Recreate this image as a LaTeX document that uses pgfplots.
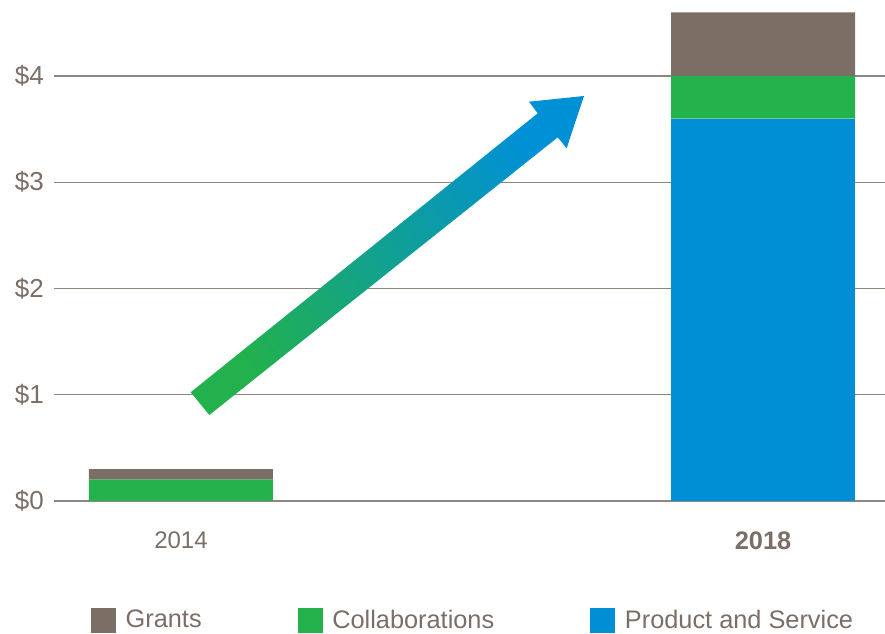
\documentclass[border=0pt]{standalone}
\usepackage{fontspec}
\setmainfont{Liberation Sans}
\usepackage{pgfplots}
\pgfplotsset{compat=1.18}
\definecolor{grants}{HTML}{7A6E65}
\definecolor{collab}{HTML}{23B24B}
\definecolor{prod}{HTML}{008FD5}
\definecolor{txt}{HTML}{7A6E66}
\definecolor{gridc}{HTML}{8F8580}
\definecolor{arrg}{HTML}{22B14C}
\definecolor{arrb}{HTML}{0090D6}
\begin{document}
\begin{tikzpicture}[x=1pt,y=1pt]
\begin{axis}[
  at={(40.5pt,99.75pt)}, anchor=south west,
  scale only axis, width=623.25pt, height=374.5pt,
  xmin=-0.2182, xmax=1.2096, ymin=0, ymax=4.7,
  ybar stacked, bar width=138pt,
  axis line style={draw=none},
  major tick length=0pt,
  ytick={0,1,2,3,4}, yticklabels={\$0,\$1,\$2,\$3,\$4},
  xtick={0,1}, xticklabels={2014,{\fontsize{19}{22}\selectfont\textbf{2018}}},
  ymajorgrids, grid style={gridc, line width=1.1pt},
  ticklabel style={font=\fontsize{18}{21}\selectfont, text=txt},
  yticklabel style={anchor=east, inner sep=0pt, xshift=-7.5pt, font=\fontsize{19.5}{22}\selectfont},
  xticklabel style={anchor=north, inner sep=0pt, yshift=-23pt},
  legend columns=3, reverse legend,
  legend image code/.code={\fill[#1] (0pt,-9.4pt) rectangle (18.75pt,9.4pt); \path (24pt,0pt);},
  legend style={at={(axis description cs:0.0445,-0.2643)}, anchor=south west,
    draw=none, fill=none, inner sep=0pt, outer sep=0pt,
    font=\fontsize{19}{22}\selectfont, text=txt,
    /tikz/every even column/.append style={column sep=70pt}},
  legend cell align=left,
]
\addplot[fill=prod, draw=none] coordinates {(0,0) (1,3.6)};
\addlegendentry{Product and Service}
\addplot[fill=collab, draw=none] coordinates {(0,0.2) (1,0.4)};
\addlegendentry{Collaborations}
\addplot[fill=grants, draw=none] coordinates {(0,0.1) (1,0.6)};
\addlegendentry{Grants}
\end{axis}
\shade[shading=axis, bottom color=arrg, top color=arrb, shading angle=-51.3]
  (143.0,181.3) -- (403.3,390.5) -- (396.75,399.2) -- (438.0,403.5)
  -- (425.0,364.3) -- (418.3,372.5) -- (157.0,164.25) -- cycle;
\pgfresetboundingbox
\useasboundingbox (0,0) rectangle (663.75,475.5);
\end{tikzpicture}
\end{document}
